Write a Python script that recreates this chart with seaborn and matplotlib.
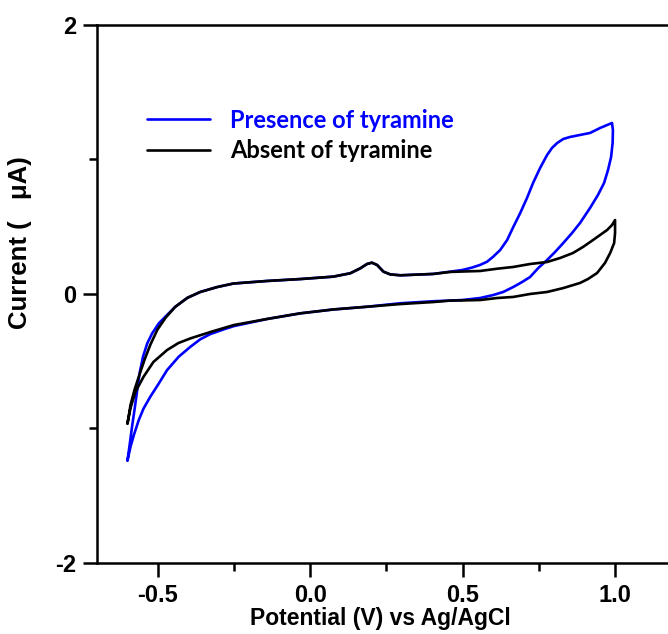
import numpy as np
import pandas as pd
import matplotlib
matplotlib.use("Agg")
import matplotlib.pyplot as plt
import seaborn as sns
from matplotlib.ticker import MultipleLocator

# ---- data ----
# Presence of tyramine: forward (anodic) sweep then reverse sweep
pres_E = [-0.600, -0.592, -0.585, -0.577, -0.568, -0.560, -0.549, -0.535, -0.519, -0.497,
          -0.470, -0.443, -0.403, -0.361, -0.305, -0.252, -0.141, -0.033, 0.075, 0.131,
          0.164, 0.186, 0.202, 0.219, 0.240, 0.262, 0.295, 0.403, 0.459, 0.498,
          0.530, 0.557, 0.580, 0.600, 0.623, 0.646, 0.666, 0.689, 0.711, 0.731,
          0.754, 0.777, 0.793, 0.810, 0.830, 0.852, 0.885, 0.918, 0.951, 0.974,
          0.990,
          0.993, 0.992, 0.987, 0.977, 0.964, 0.944, 0.918, 0.885, 0.859, 0.830,
          0.803, 0.777, 0.748, 0.721, 0.695, 0.666, 0.633, 0.600, 0.557, 0.498,
          0.459, 0.403, 0.295, 0.186, 0.076, -0.033, -0.142, -0.251, -0.284, -0.328,
          -0.361, -0.393, -0.432, -0.470, -0.497, -0.525, -0.547, -0.563, -0.579, -0.590,
          -0.600]
pres_I = [-1.240, -1.109, -0.988, -0.864, -0.715, -0.588, -0.467, -0.368, -0.294, -0.219,
          -0.157, -0.096, -0.029, 0.014, 0.051, 0.077, 0.096, 0.110, 0.128, 0.153,
          0.190, 0.222, 0.232, 0.215, 0.165, 0.145, 0.138, 0.148, 0.165, 0.177,
          0.195, 0.215, 0.239, 0.276, 0.326, 0.401, 0.497, 0.602, 0.713, 0.825,
          0.936, 1.033, 1.085, 1.122, 1.152, 1.167, 1.182, 1.197, 1.234, 1.256,
          1.271,
          1.219, 1.122, 1.018, 0.922, 0.825, 0.736, 0.639, 0.527, 0.453, 0.378,
          0.311, 0.252, 0.192, 0.125, 0.088, 0.051, 0.014, -0.009, -0.031, -0.046,
          -0.050, -0.055, -0.070, -0.096, -0.116, -0.145, -0.187, -0.240, -0.264, -0.299,
          -0.338, -0.393, -0.468, -0.567, -0.666, -0.765, -0.852, -0.939, -1.050, -1.137,
          -1.240]

# Absent of tyramine
abs_E = [-0.600, -0.590, -0.577, -0.561, -0.544, -0.525, -0.502, -0.475, -0.443, -0.403,
         -0.361, -0.305, -0.252, -0.141, -0.033, 0.075, 0.131, 0.164, 0.186, 0.202,
         0.219, 0.240, 0.262, 0.295, 0.403, 0.459, 0.498, 0.557, 0.613, 0.666,
         0.721, 0.777, 0.820, 0.862, 0.895, 0.928, 0.951, 0.974, 0.990, 1.000,
         1.000, 0.997, 0.984, 0.967, 0.941, 0.911, 0.885, 0.830, 0.777, 0.721,
         0.666, 0.613, 0.557, 0.498, 0.459, 0.403, 0.295, 0.186, 0.076, -0.033,
         -0.142, -0.251, -0.328, -0.393, -0.433, -0.470, -0.515, -0.547, -0.574, -0.590,
         -0.600]
abs_I = [-0.965, -0.826, -0.715, -0.603, -0.490, -0.379, -0.267, -0.178, -0.096, -0.029,
         0.014, 0.051, 0.077, 0.096, 0.110, 0.128, 0.153, 0.190, 0.222, 0.232,
         0.215, 0.165, 0.145, 0.138, 0.148, 0.163, 0.166, 0.170, 0.187, 0.200,
         0.222, 0.237, 0.267, 0.304, 0.349, 0.401, 0.438, 0.475, 0.512, 0.549,
         0.453, 0.378, 0.304, 0.230, 0.155, 0.110, 0.081, 0.043, 0.014, -0.001,
         -0.023, -0.031, -0.046, -0.049, -0.050, -0.061, -0.076, -0.096, -0.116, -0.145,
         -0.187, -0.232, -0.284, -0.331, -0.366, -0.418, -0.507, -0.616, -0.730, -0.849,
         -0.965]

series_names = ["Presence of tyramine", "Absent of tyramine"]
series_colors = ["#0000FF", "#000000"]
x_ticks = [-0.5, 0.0, 0.5, 1.0]
y_ticks = [-2, 0, 2]

sns.set_style("ticks")
plt.rcParams["font.family"] = ["Liberation Sans", "DejaVu Sans"]
plt.rcParams["text.color"] = "black"
plt.rcParams["axes.labelcolor"] = "black"
plt.rcParams["xtick.color"] = "black"
plt.rcParams["ytick.color"] = "black"

fig = plt.figure(figsize=(6.68, 6.34), dpi=100)
ax = fig.add_axes([97 / 668, 71.3 / 634, (676 - 97) / 668, (562.7 - 25) / 634])

df_p = pd.DataFrame({"E": pres_E, "I": pres_I})
df_a = pd.DataFrame({"E": abs_E, "I": abs_I})
sns.lineplot(data=df_p, x="E", y="I", sort=False, estimator=None, color=series_colors[0],
             lw=1.9, ax=ax, label=series_names[0])
sns.lineplot(data=df_a, x="E", y="I", sort=False, estimator=None, color=series_colors[1],
             lw=1.9, ax=ax, label=series_names[1])
for ln in ax.get_lines():
    ln.set_solid_joinstyle("round")

ax.set_xlim(-0.7, 1.2)
ax.set_ylim(-2, 2)
ax.set_xticks(x_ticks)
ax.set_xticklabels([f"{v:.1f}" for v in x_ticks])
ax.set_yticks(y_ticks)
ax.set_yticklabels([str(v) for v in y_ticks])
ax.xaxis.set_minor_locator(MultipleLocator(0.25))
ax.yaxis.set_minor_locator(MultipleLocator(1))

for s in ["left", "bottom", "top"]:
    ax.spines[s].set_linewidth(1.8)
    ax.spines[s].set_color("black")
ax.spines["right"].set_visible(False)

ax.tick_params(axis="both", which="major", length=10, width=1.8, direction="out",
               labelsize=17, pad=5, colors="black")
ax.tick_params(axis="both", which="minor", length=6, width=1.8, direction="out")
for lab in ax.get_xticklabels() + ax.get_yticklabels():
    lab.set_fontweight("bold")

ax.set_xlabel("Potential (V) vs Ag/AgCl", fontsize=16.5, fontweight="bold")
ax.xaxis.set_label_coords((380 - 97) / 579, (562.7 - 607) / 537.7)
ax.set_ylabel("Current (   \u03bcA)", fontsize=18.5, fontweight="bold")
ax.yaxis.set_label_coords((32 - 97) / 579, (562.7 - 243) / 537.7)

leg = ax.legend(loc="upper left", bbox_to_anchor=(147 / 668, 1 - 108.5 / 634),
                bbox_transform=fig.transFigure, frameon=False,
                prop={"family": ["Lato", "DejaVu Sans"], "weight": "bold", "size": 17},
                handlelength=2.67, handletextpad=0.85, labelspacing=0.33,
                borderaxespad=0, borderpad=0)
for txt, c in zip(leg.get_texts(), series_colors):
    txt.set_color(c)

fig.savefig("out.png", dpi=100)
